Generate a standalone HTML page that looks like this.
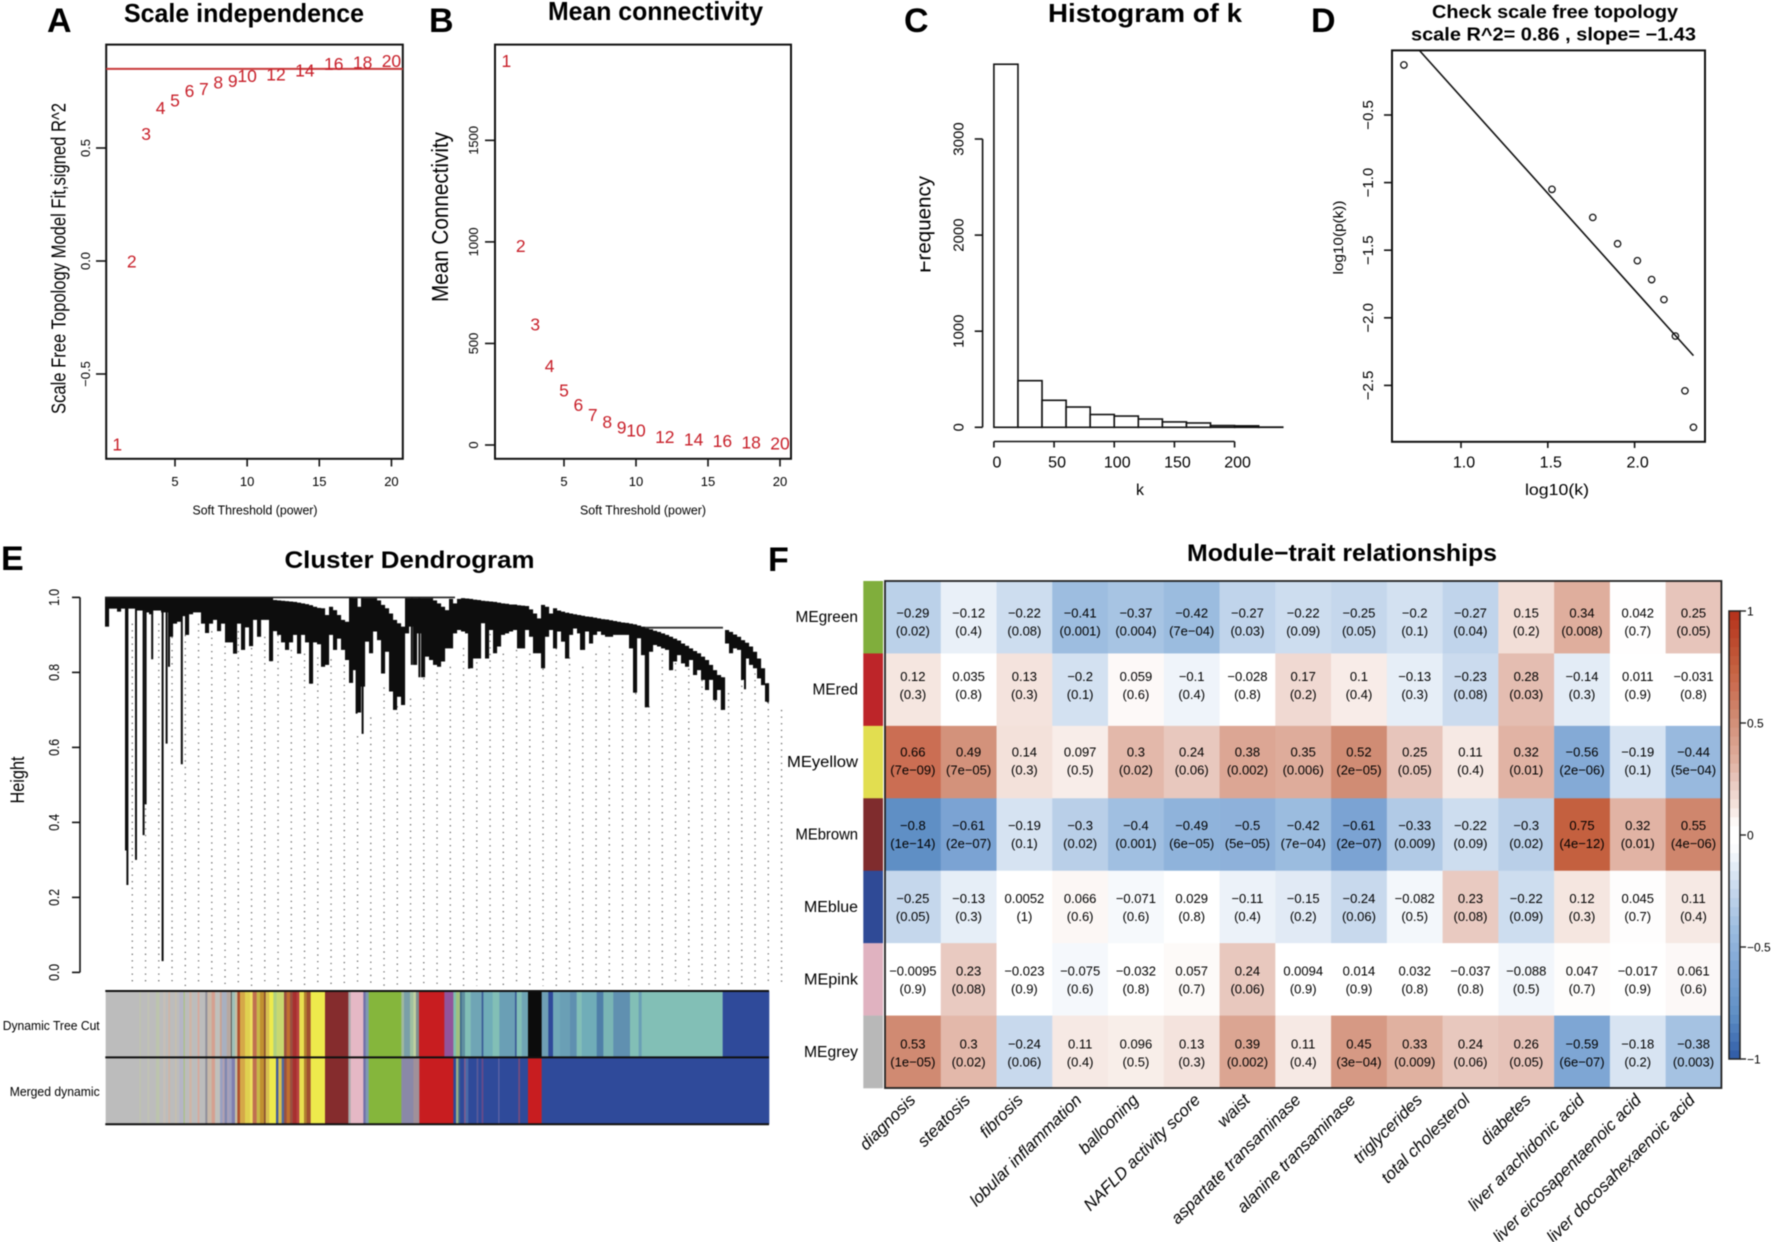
<!DOCTYPE html>
<html lang="en">
<head>
<meta charset="utf-8">
<title>WGCNA module analysis</title>
<style>
html,body{margin:0;padding:0;background:#fff;}
svg{display:block;font-family:"Liberation Sans",Arial,sans-serif;filter:blur(0.45px);}
.letter{font-size:34px;font-weight:bold;fill:#000;}
.title{font-weight:bold;fill:#000;}
</style>
</head>
<body>
<svg id="fig" xmlns="http://www.w3.org/2000/svg" width="1772" height="1242" viewBox="0 0 1772 1242">
  <rect x="0" y="0" width="1772" height="1242" fill="#fff"/>
  <text class="letter" x="47" y="32">A</text>
  <text class="letter" x="429" y="32">B</text>
  <text class="letter" x="904" y="32">C</text>
  <text class="letter" x="1311" y="32">D</text>
  <text class="letter" x="1" y="570">E</text>
  <text class="letter" x="768" y="571">F</text>

  <text class="title" x="124" y="22" font-size="26" textLength="240" lengthAdjust="spacingAndGlyphs">Scale independence</text>
  <text class="title" x="548" y="20" font-size="26" textLength="215" lengthAdjust="spacingAndGlyphs">Mean connectivity</text>
  <text class="title" x="1048" y="22" font-size="26" textLength="194" lengthAdjust="spacingAndGlyphs">Histogram of k</text>
  <text class="title" x="1432" y="18" font-size="18" textLength="246" lengthAdjust="spacingAndGlyphs">Check scale free topology</text>
  <text class="title" x="1411" y="40.5" font-size="18" textLength="285" lengthAdjust="spacingAndGlyphs">scale R^2= 0.86 , slope= −1.43</text>
  <text class="title" x="284.5" y="568" font-size="24" textLength="250" lengthAdjust="spacingAndGlyphs">Cluster Dendrogram</text>
  <text class="title" x="1187" y="561" font-size="24" textLength="310" lengthAdjust="spacingAndGlyphs">Module−trait relationships</text>

  <text x="0" y="0" transform="translate(65.5 258.5) rotate(-90)" text-anchor="middle" font-size="20" textLength="311" lengthAdjust="spacingAndGlyphs">Scale Free Topology Model Fit,signed R^2</text>
  <text x="0" y="0" transform="translate(448 217) rotate(-90)" text-anchor="middle" font-size="23" textLength="170" lengthAdjust="spacingAndGlyphs">Mean Connectivity</text>
  <text x="0" y="0" transform="translate(930.5 224.5) rotate(-90)" text-anchor="middle" font-size="20" textLength="97" lengthAdjust="spacingAndGlyphs">Frequency</text>
  <rect x="914" y="258" width="6.5" height="17" fill="#fff"/>
  <text x="0" y="0" transform="translate(1343 237.5) rotate(-90)" text-anchor="middle" font-size="14" textLength="74" lengthAdjust="spacingAndGlyphs">log10(p(k))</text>
  <text x="0" y="0" transform="translate(24 780) rotate(-90)" text-anchor="middle" font-size="19" textLength="47" lengthAdjust="spacingAndGlyphs">Height</text>
  <text x="255" y="514.5" text-anchor="middle" font-size="13" textLength="125" lengthAdjust="spacingAndGlyphs">Soft Threshold (power)</text>
  <text x="643" y="514.5" text-anchor="middle" font-size="13" textLength="126" lengthAdjust="spacingAndGlyphs">Soft Threshold (power)</text>
  <text x="1140" y="495" text-anchor="middle" font-size="16">k</text>
  <text x="1557" y="495" text-anchor="middle" font-size="16" textLength="64" lengthAdjust="spacingAndGlyphs">log10(k)</text>
  <text x="99.7" y="1030" text-anchor="end" font-size="13" textLength="97" lengthAdjust="spacingAndGlyphs">Dynamic Tree Cut</text>
  <text x="99.7" y="1096" text-anchor="end" font-size="13" textLength="90" lengthAdjust="spacingAndGlyphs">Merged dynamic</text>

  <g id="panelA"></g>
  <g id="panelB"></g>
  <g id="panelC"></g>
  <g id="panelD"></g>
  <g id="panelE"></g>
  <g id="panelF"></g>
</svg>
<script>
// ---------- Panel A / B data ----------
const powers = [1,2,3,4,5,6,7,8,9,10,12,14,16,18,20];
const scaleFit = [-0.81,0.0,0.565,0.68,0.713,0.754,0.763,0.793,0.799,0.82,0.827,0.845,0.874,0.88,0.888];
const meanConnectivity = [1893,983,595,391,271,200,150,115,88,73,42,30,22,15,10];
const powerTicks = [5,10,15,20];
const scaleFitTicks = [-0.5,0,0.5];
const scaleFitTickLabels = ['−0.5','0.0','0.5'];
const connectivityTicks = [0,500,1000,1500];
const scaleCutoff = 0.85;
// ---------- Panel C data ----------
const histBinWidth = 20;
const histCounts = [3778,485,281,211,133,117,86,56,45,18,15,2];
const histXTicks = [0,50,100,150,200];
const histYTicks = [0,1000,2000,3000];
// ---------- Panel D data ----------
const logK = [0.671,1.524,1.759,1.902,2.016,2.098,2.169,2.235,2.29,2.339];
const logPk = [-0.13,-1.05,-1.2575,-1.4525,-1.5775,-1.7175,-1.865,-2.135,-2.54,-2.81];
const fitIntercept = 1.065;
const fitSlope = -1.43;
const logKTicks = [1.0,1.5,2.0];
const logKTickLabels = ['1.0','1.5','2.0'];
const logPkTicks = [-0.5,-1,-1.5,-2,-2.5];
const logPkTickLabels = ['−0.5','−1.0','−1.5','−2.0','−2.5'];
// ---------- Panel E data ----------
const heightTicks = [0,0.2,0.4,0.6,0.8,1];
const heightTickLabels = ['0.0','0.2','0.4','0.6','0.8','1.0'];
const dendroTop = [1,1,1,1,1,1,1,1,1,1,1,1,1,1,1,1,1,1,1,1,1,1,1,1,1,1,1,1,1,1,1,1,1,1,1,1,1,1,1,1,1,1,
.993,.992,.991,.990,.989,.988,.986,.984,.982,.979,.975,.972,.971,.953,.975,.966,.953,
.940,.935,.999,.998,.975,.998,.998,.998,.998,.992,.980,.971,.957,.940,.931,.922,.998,.998,.998,.998,.998,.998,.998,.992,.984,.975,.966,.996,.984,.996,
.998,.997,.996,.994,.993,.991,.990,.989,.988,.986,.984,.983,.981,.981,.979,.978,.977,.968,.957,.944,.980,.975,.957,.971,
.965,.962,.959,.957,.955,.953,.951,.949,.948,.946,.944,.942,.941,.939,.937,.935,.933,.932,.930,.928,.925,.922,.917,.915,.911,.908,.904,.900,.895,.890,.885,.877,.871,.864,.857,.851,.842,.833,.820,.806,.793,.787,
.913,.908,.901,.895,.886,.879,.869,.855,.837,.811,.771];
const dendroBottom = [.922,.97,.97,.962,.97,.97,.97,.97,.965,.965,.96,.955,.965,.965,.96,.96,.895,.93,.935,.95,.90,.955,.96,.96,.93,.905,.93,.94,.91,.93,.88,.88,.85,.93,.86,.92,.87,.94,.895,.94,.94,.83,.91,.90,.88,.86,.88,.90,.85,.90,.88,.77,.88,.875,.815,.82,.90,.86,.89,
.860,.833,.772,.806,.693,.762,.882,.851,.909,.886,.797,.855,.749,.700,.735,.713,.904,.922,.820,.904,.787,.842,.833,.820,.815,.829,.864,.864,.904,.913,.909,.904,.811,.837,.837,.931,.837,.913,.851,.869,.900,.904,.909,.913,.864,.864,.913,.895,.851,.851,.811,.895,.913,.864,
.909,.882,.837,.900,.917,.904,.860,.909,.877,.900,.909,.900,.895,.895,.900,.900,.900,.900,.864,.746,.891,.846,.707,.855,.873,.869,.864,.860,.806,.829,.846,.824,.815,.833,.793,.806,.780,.753,.780,.726,.753,.700,.877,.851,.864,.860,.780,.837,.820,.811,.784,.766,.722];
const spikeLeaf = [5.25,5.6,7.75,9.65,10.15,11.8,14.4,15.4,16,19.2,41.5,51.5,62.9,64.4,76.7,78.6,91,115.8,119,132.5,135.2,141.3,154.2,160,165.7];
const spikeHeight = [.325,.233,.30,.366,.448,.835,.03,.61,.815,.555,.83,.77,.69,.636,.82,.787,.81,.84,.86,.746,.707,.806,.70,.755,.72];
const dotStartHeight = [.93,.93,.93,.895,.90,.93,.91,.87,.91,.865,.895,.90,.86,.85,.84,.835,.82,.63,.68,.76,.71,.73,.89,.80,.815,.865,.88,.92,.85,.86,.85,.81,.865,.84,.815,.85,.87,.85,.745,.71,.85,.825,.81,.78,.725,.745,.835,.815,.72,.70];
const treeCutColors = ['#bcbcbc','#bfc2b0','#bcbcbc','#c0c2b4','#bcbcbc','#bcc4ad','#bcbcbc','#c8bfb5','#bcbcbc','#d0b5a5','#bcbcbc','#c6bfae','#bcbcbc','#b5b5c5','#a7c078','#bcbcbc','#d0b5a5','#bcbcbc','#d8a89a','#bcbcbc','#8f8f9b','#c8b8a8','#d5a090','#c0c0bc','#c9a090','#a8b0c0','#b7a8a0','#333333','#9fc0b8','#c5c0a5','#b05030','#d5a848','#e0d050','#eee060','#c07050','#c8b848','#c09030','#8a5030','#d8c050','#eeea4c','#b0d080','#c8d870','#9a5040','#c07030','#9a5040','#a83030','#b84040','#e8e050','#b08030','#a05030','#eeea4c','#852c2d','#aaaaaa','#e5b8c5','#7070a8','#7f9ab0','#85b63c',
'#a0b8a0','#7a9fa8','#9fc0a0','#c0d0a0','#7f8f90','#c81d20','#93549b','#7fbfae','#a0c080','#3f6a8a','#5f8fa0','#82bfb6','#6fa5b5','#3a5a95','#70adb8','#82bfb6','#6a9fb5','#3a5a95','#82bfb6','#6fa5b5','#0c0c0c','#6f9fb5','#2f4a9a','#70a8b8','#6a9fb5','#5f90b0','#82bfb6','#70adb8','#4f7fa8','#7ab5b5','#6090b0','#82bfb6','#6a9fb5','#82bfb6','#2f4a9a'];
const treeCutCounts = [101,5,19,6,20,10,12,6,9,5,15,5,8,13,3,14,7,18,5,18,6,13,10,15,5,15,13,2,10,7,8,15,15,8,12,10,12,5,11,12,10,22,8,10,8,12,8,14,8,12,43,70,7,38,7,9,98,
8,18,10,8,9,76,27,8,12,5,10,17,33,5,28,20,47,5,15,19,41,20,14,21,30,20,15,45,20,30,50,26,9,243,139];
const mergedColors = ['#bcbcbc','#bfc2b0','#bcbcbc','#c0c2b4','#bcbcbc','#bcc4ad','#bcbcbc','#c8bfb5','#bcbcbc','#d0b5a5','#bcbcbc','#c6bfae','#bcbcbc','#b5b5c5','#a7c078','#bcbcbc','#d0b5a5','#bcbcbc','#d8a89a','#bcbcbc','#8f8f9b','#c8b8a8','#d5a090','#c0c0bc','#9aa0c0','#b0a0b0','#8088b0','#a8a0b8','#9aa0c0','#7f7fb0','#c5c0a5','#b05030','#d5a848','#e0d050','#eee060','#c07050','#c8b848','#c09030','#8a5030','#d8c050','#eeea4c','#3f5a9a','#d8c050','#4f6aa0','#9a5040','#c07030','#9a5040','#a83030','#b84040','#e8e050','#b08030','#a05030','#eeea4c','#852c2d','#aaaaaa','#e5b8c5','#7070a8','#7f9ab0','#85b63c',
'#8a88a8','#a0909a','#c81d20','#2f4a9a','#9ab088','#3f6a8a','#2f4a9a','#7a5a90','#4a6aa8','#2f4a9a','#5a5a98','#2f4a9a','#6a4a88','#2f4a9a','#6a6aa8','#2f4a9a','#7a4a78','#2f4a9a','#c81d20','#2f4a9a'];
const mergedCounts = [101,5,19,6,20,10,12,6,9,5,15,5,8,13,3,14,7,18,5,18,6,13,10,15,8,6,7,7,7,10,7,8,15,15,8,12,10,12,5,11,20,7,10,7,8,10,8,12,8,14,8,12,43,70,7,38,7,9,98,
36,18,102,8,7,5,12,5,8,25,5,10,5,45,3,57,5,24,41,682];
// ---------- Panel F data ----------
const moduleNames = ['MEgreen','MEred','MEyellow','MEbrown','MEblue','MEpink','MEgrey'];
const moduleColors = ['#80ae3c','#bd2529','#e2de50','#7f2c2d','#2f4a96','#e0b2c0','#b8b8b8'];
const traitNames = ['diagnosis','steatosis','fibrosis','lobular inflammation','ballooning','NAFLD activity score','waist','aspartate transaminase','alanine transaminase','triglycerides','total cholesterol','diabetes','liver arachidonic acid','liver eicosapentaenoic acid','liver docosahexaenoic acid'];
const corGreen = [-0.29,-0.12,-0.22,-0.41,-0.37,-0.42,-0.27,-0.22,-0.25,-0.2,-0.27,0.15,0.34,0.042,0.25];
const corRed = [0.12,0.035,0.13,-0.2,0.059,-0.1,-0.028,0.17,0.1,-0.13,-0.23,0.28,-0.14,0.011,-0.031];
const corYellow = [0.66,0.49,0.14,0.097,0.3,0.24,0.38,0.35,0.52,0.25,0.11,0.32,-0.56,-0.19,-0.44];
const corBrown = [-0.8,-0.61,-0.19,-0.3,-0.4,-0.49,-0.5,-0.42,-0.61,-0.33,-0.22,-0.3,0.75,0.32,0.55];
const corBlue = [-0.25,-0.13,0.0052,0.066,-0.071,0.029,-0.11,-0.15,-0.24,-0.082,0.23,-0.22,0.12,0.045,0.11];
const corPink = [-0.0095,0.23,-0.023,-0.075,-0.032,0.057,0.24,0.0094,0.014,0.032,-0.037,-0.088,0.047,-0.017,0.061];
const corGrey = [0.53,0.3,-0.24,0.11,0.096,0.13,0.39,0.11,0.45,0.33,0.24,0.26,-0.59,-0.18,-0.38];
const pGreen = ['0.02','0.4','0.08','0.001','0.004','7e−04','0.03','0.09','0.05','0.1','0.04','0.2','0.008','0.7','0.05'];
const pRed = ['0.3','0.8','0.3','0.1','0.6','0.4','0.8','0.2','0.4','0.3','0.08','0.03','0.3','0.9','0.8'];
const pYellow = ['7e−09','7e−05','0.3','0.5','0.02','0.06','0.002','0.006','2e−05','0.05','0.4','0.01','2e−06','0.1','5e−04'];
const pBrown = ['1e−14','2e−07','0.1','0.02','0.001','6e−05','5e−05','7e−04','2e−07','0.009','0.09','0.02','4e−12','0.01','4e−06'];
const pBlue = ['0.05','0.3','1','0.6','0.6','0.8','0.4','0.2','0.06','0.5','0.08','0.09','0.3','0.7','0.4'];
const pPink = ['0.9','0.08','0.9','0.6','0.8','0.7','0.06','0.9','0.9','0.8','0.8','0.5','0.7','0.9','0.6'];
const pGrey = ['1e−05','0.02','0.06','0.4','0.5','0.3','0.002','0.4','3e−04','0.009','0.06','0.05','6e−07','0.2','0.003'];
const colorbarTicks = [-1,-0.5,0,0.5,1];
const colorbarTickLabels = ['−1','−0.5','0','0.5','1'];

const NS = 'http://www.w3.org/2000/svg';
function mk(tag, attrs, parent){
  const el = document.createElementNS(NS, tag);
  for (const k in attrs) el.setAttribute(k, attrs[k]);
  parent.appendChild(el);
  return el;
}
function txt(str, x, y, size, parent, opts){
  const o = opts || {};
  const a = {x:x, y:y, 'font-size':size, 'text-anchor':o.anchor||'middle', fill:o.fill||'#000'};
  if (o.rot!==undefined){ a.x=0; a.y=0; a.transform='translate('+x+' '+y+') rotate('+o.rot+')'; }
  if (o.len){ a.textLength=o.len; a.lengthAdjust='spacingAndGlyphs'; }
  if (o.style) a['font-style']=o.style;
  const el = mk('text', a, parent);
  el.textContent = str;
  return el;
}
function line(x1,y1,x2,y2,w,color,parent){
  return mk('line',{x1:x1,y1:y1,x2:x2,y2:y2,stroke:color||'#111','stroke-width':w||1.6},parent);
}
function fmt(v){ return (v<0?'−':'')+String(Math.abs(v)); }

// ---------- Panel A ----------
(function(){
  const g = document.getElementById('panelA');
  const xS = p => 175 + (p-5)*14.43;
  const yS = v => 261 - 226*v;
  const box = mk('rect',{x:106.2,y:44.6,width:296.6,height:414.2,fill:'none',stroke:'#111','stroke-width':2},g);
  
  
  const cut = line(106.2,yS(scaleCutoff),402.8,yS(scaleCutoff),2,'#c8383a',g);
  
  
  powerTicks.forEach(t=>{
    const tk = line(xS(t),458.8,xS(t),466.5,1.6,'#111',g);
    
    
    const lb = txt(String(t),xS(t),486,13,g);
    
    
  });
  scaleFitTicks.forEach((t,i)=>{
    const tk = line(96,yS(t),106.2,yS(t),1.6,'#111',g);
    
    
    const lb = txt(scaleFitTickLabels[i],90,yS(t),13,g,{rot:-90});
    
    
  });
  powers.forEach((p,i)=>{
    const m = txt(String(p),xS(p),yS(scaleFit[i])+6.5,17.5,g,{fill:'#c8202a'});
    
    
  });
})();

// ---------- Panel B ----------
(function(){
  const g = document.getElementById('panelB');
  const xS = p => 564 + (p-5)*14.4;
  const yS = v => 445 - 0.2031*v;
  const box = mk('rect',{x:495,y:44.6,width:296,height:414.2,fill:'none',stroke:'#111','stroke-width':2},g);
  
  
  powerTicks.forEach(t=>{
    const tk = line(xS(t),458.8,xS(t),466.5,1.6,'#111',g);
    
    
    const lb = txt(String(t),xS(t),486,13,g);
    
    
  });
  connectivityTicks.forEach(t=>{
    const tk = line(485,yS(t),495,yS(t),1.6,'#111',g);
    
    
    const lb = txt(String(t),478,yS(t),13,g,{rot:-90});
    
    
  });
  powers.forEach((p,i)=>{
    const m = txt(String(p),xS(p),yS(meanConnectivity[i])+6.5,17.5,g,{fill:'#c8202a'});
    
    
  });
})();

// ---------- Panel C ----------
(function(){
  const g = document.getElementById('panelC');
  const xS = k => 993.9 + k*1.2035;
  const yS = v => 427.3 - v*0.0961;
  histCounts.forEach((c,i)=>{
    const b = mk('rect',{x:xS(i*histBinWidth),y:yS(c),width:xS(histBinWidth)-xS(0),height:yS(0)-yS(c),fill:'#fff',stroke:'#111','stroke-width':1.6},g);
    
    
  });
  const ya = line(982.6,yS(0),982.6,yS(histYTicks[histYTicks.length-1]),1.6,'#111',g);
  
  
  histYTicks.forEach(t=>{
    const tk = line(974.7,yS(t),982.6,yS(t),1.6,'#111',g);
    
    
    const lb = txt(String(t),963.5,yS(t),15,g,{rot:-90});
    
    
  });
  const xa = line(xS(0),441.5,xS(histXTicks[histXTicks.length-1]),441.5,1.6,'#111',g);
  
  
  histXTicks.forEach(t=>{
    const tk = line(xS(t),441.5,xS(t),447.5,1.6,'#111',g);
    
    
    const lb = txt(String(t),xS(t)+3,467.5,16,g);
    
    
  });
})();

// ---------- Panel D ----------
(function(){
  const g = document.getElementById('panelD');
  const xS = v => 1461 + (v-1)*173.6;
  const yS = v => 115 - (v+0.5)*135.2;
  const box = mk('rect',{x:1392,y:50.4,width:313,height:391.4,fill:'none',stroke:'#111','stroke-width':2},g);
  
  
  logKTicks.forEach((t,i)=>{
    const tk = line(xS(t),441.8,xS(t),448,1.6,'#111',g);
    
    
    const lb = txt(logKTickLabels[i],xS(t)+3,467.5,16,g);
    
    
  });
  logPkTicks.forEach((t,i)=>{
    const tk = line(1384,yS(t),1392,yS(t),1.6,'#111',g);
    
    
    const lb = txt(logPkTickLabels[i],1373,yS(t),15,g,{rot:-90});
    
    
  });
  const xStart = (-0.022 - fitIntercept)/fitSlope;
  const xEnd = logK[logK.length-1];
  const fit = line(xS(xStart),yS(fitIntercept+fitSlope*xStart),xS(xEnd),yS(fitIntercept+fitSlope*xEnd),1.6,'#111',g);
  
  
  logK.forEach((k,i)=>{
    const c = mk('circle',{cx:xS(k),cy:yS(logPk[i]),r:3.2,fill:'none',stroke:'#111','stroke-width':1.3},g);
    
    
  });
})();

// ---------- Panel E ----------
(function(){
  const g = document.getElementById('panelE');
  const yS = h => 972.4 - 375*h;
  const leafX = i => 105 + 4*i;
  const colX = i => 132.3 + 13.25*i;
  dotStartHeight.forEach((h,i)=>{
    const d = mk('line',{x1:colX(i),y1:yS(h),x2:colX(i),y2:986,stroke:'#6f6f6f','stroke-width':1.3,'stroke-dasharray':'1.3 5.3'},g);
    
    
  });
  const bins = Math.min(dendroTop.length, dendroBottom.length);
  for (let i=0;i<bins;i++){
    const b = mk('rect',{x:leafX(i),y:yS(dendroTop[i]),width:4.1,height:yS(dendroBottom[i])-yS(dendroTop[i]),fill:'#0d0d0d'},g);
    
    
  }
  spikeLeaf.forEach((l,i)=>{
    const startH = dendroTop[Math.min(Math.floor(l),dendroTop.length-1)];
    const s = line(leafX(l),yS(startH),leafX(l),yS(spikeHeight[i]),2,'#0d0d0d',g);
    
    
  });
  const t1 = line(105,yS(1),455,yS(1),1.6,'#222',g);
  
  
  const t2 = line(645,627.7,723,627.7,1.8,'#333',g);
  
  
  const ax = line(80,yS(0),80,yS(1),1.6,'#111',g);
  
  
  heightTicks.forEach((t,i)=>{
    const tk = line(72,yS(t),80,yS(t),1.6,'#111',g);
    
    
    const lb = txt(heightTickLabels[i],59,yS(t),15,g,{rot:-90,len:17});
    
    
  });
  let cx = 105.67;
  treeCutColors.forEach((c,i)=>{
    const w = treeCutCounts[i]/3;
    const r = mk('rect',{x:cx,y:991,width:w+0.3,height:66.4,fill:c},g);
    
    
    cx += w;
  });
  cx = 105.67;
  mergedColors.forEach((c,i)=>{
    const w = mergedCounts[i]/3;
    const r = mk('rect',{x:cx,y:1057.4,width:w+0.3,height:66.9,fill:c},g);
    
    
    cx += w;
  });
  [991,1057.4,1124.3].forEach(y=>{
    const l = line(105.3,y,769,y,2,'#111',g);
    
    
  });
})();

// ---------- Panel F ----------
(function(){
  const g = document.getElementById('panelF');
  const corRows = [corGreen,corRed,corYellow,corBrown,corBlue,corPink,corGrey];
  const pRows = [pGreen,pRed,pYellow,pBrown,pBlue,pPink,pGrey];
  const L=885, T=581, CW=55.76, RH=72.43;
  const textShift = [5,-4,-1,0,0.5,0.5,1];
  const traitNudge = [0,-1,-4,-1,0,6,0,-5,-6,5,-3,2,0,1,-1];
  const stopV = [-1,-0.8,-0.61,-0.41,-0.25,-0.12,-0.04,0.04,0.12,0.25,0.34,0.52,0.66,0.75,1];
  const stopC = [[46,90,166],[95,143,197],[123,163,211],[157,189,224],[197,215,236],[233,240,248],[255,255,255],[255,255,255],[245,230,224],[231,197,187],[223,174,157],[208,140,116],[203,110,83],[196,96,63],[181,48,26]];
  function color(v){
    let i = 0;
    while (i<stopV.length-2 && v>stopV[i+1]) i++;
    const t = Math.max(0,Math.min(1,(v-stopV[i])/(stopV[i+1]-stopV[i])));
    const c = stopC[i].map((a,k)=>Math.round(a+(stopC[i+1][k]-a)*t));
    return 'rgb('+c.join(',')+')';
  }
  corRows.forEach((row,r)=>{
    const side = mk('rect',{x:863.3,y:T+r*RH,width:19.7,height:RH+0.3,fill:moduleColors[r]},g);
    
    
    const nm = txt(moduleNames[r],858,T+r*RH+RH/2+5,15.5,g,{anchor:'end',len:moduleNames[r].length*8.5+3});
    
    
    row.forEach((v,c)=>{
      const cell = mk('rect',{x:L+c*CW,y:T+r*RH,width:CW+0.3,height:RH+0.3,fill:color(v)},g);
      
      
      const cy = T+r*RH+RH/2+textShift[r];
      const t1 = txt(fmt(v),L+c*CW+CW/2,cy-4.5,13,g);
      
      
      const t2 = txt('('+pRows[r][c]+')',L+c*CW+CW/2,cy+13.5,13,g);
      
      
    });
  });
  const box = mk('rect',{x:L,y:T,width:CW*15,height:RH*7,fill:'none',stroke:'#222','stroke-width':1.8},g);
  
  
  traitNames.forEach((n,c)=>{
    const t = txt(n,L+c*CW+CW/2+3.5+traitNudge[c],1101,16.8,g,{anchor:'end',rot:-45,style:'italic'});
    
    
  });
  const barY = v => 835 - v*224;
  for (let i=0;i<50;i++){
    const v0 = -1 + i*0.04;
    const s = mk('rect',{x:1729,y:barY(v0+0.04),width:11,height:9.2,fill:color(v0+0.02)},g);
    
    
  }
  const cb = mk('rect',{x:1729,y:barY(1),width:11,height:448,fill:'none',stroke:'#222','stroke-width':1.5},g);
  
  
  colorbarTicks.forEach((t,i)=>{
    const tk = line(1740,barY(t),1746,barY(t),1.4,'#222',g);
    
    
    const lb = txt(colorbarTickLabels[i],1747,barY(t)+4.5,12,g,{anchor:'start'});
    
    
  });
})();
</script>
</body>
</html>
